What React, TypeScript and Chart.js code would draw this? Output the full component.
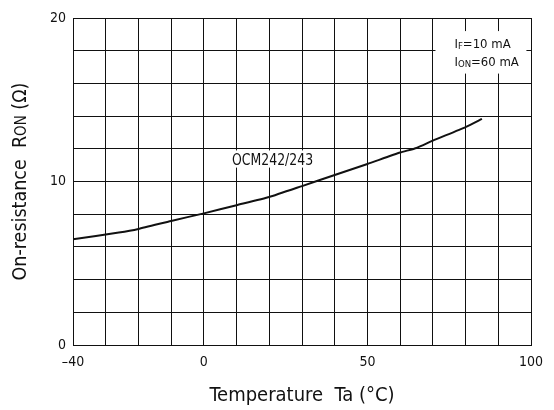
import React, { useEffect, useRef } from "react";
import { Chart, registerables } from "chart.js";

Chart.register(...registerables);

const temperatures = [-40, -26, -20, -10, 0, 10, 20, 30, 40, 50, 60, 65, 70, 80, 85];
const resistance = [6.47, 6.88, 7.1, 7.59, 8.05, 8.55, 9.05, 9.72, 10.4, 11.07, 11.77, 12.05, 12.5, 13.33, 13.83];
const xTickLabels = [-40, 0, 50, 100];
const yTickLabels = [0, 10, 20];
const seriesLabel = "OCM242/243";
const xTitle = "Temperature  Ta (°C)";

const FONT = '"Liberation Sans Narrow", "DejaVu Sans Condensed", "Roboto", sans-serif';

type Part = { t: string; sub?: boolean };

function drawParts(ctx: CanvasRenderingContext2D, x: number, y: number, parts: Part[], size: number, subSize: number) {
  let cx = x;
  for (const p of parts) {
    ctx.font = `${p.sub ? subSize : size}px ${FONT}`;
    ctx.fillText(p.t, cx, p.sub ? y + size * 0.22 : y);
    cx += ctx.measureText(p.t).width;
  }
  return cx - x;
}

const annotations = {
  id: "annotations",
  afterDatasetsDraw(chart: any) {
    const { ctx, scales } = chart;
    const xs = scales.x;
    const ys = scales.y;
    ctx.save();
    // series label with white box (tall condensed look)
    ctx.font = `16.5px ${FONT}`;
    const lx = (xs.getPixelForValue(8) + xs.getPixelForValue(34)) / 2;
    const ly = ys.getPixelForValue(11.3);
    const rawW = ctx.measureText(seriesLabel).width;
    const targetW = 81;
    ctx.fillStyle = "#fff";
    ctx.fillRect(lx - targetW / 2 - 4, ys.getPixelForValue(11.9), targetW + 8, ys.getPixelForValue(10.85) - ys.getPixelForValue(11.9));
    ctx.fillStyle = "#111";
    ctx.textAlign = "center";
    ctx.textBaseline = "middle";
    ctx.save();
    ctx.translate(lx, ly);
    ctx.scale(targetW / rawW, 1);
    ctx.fillText(seriesLabel, 0, 0);
    ctx.restore();

    // condition box
    const bx0 = xs.getPixelForValue(70.8);
    const bx1 = xs.getPixelForValue(98.6);
    const by0 = ys.getPixelForValue(19.2);
    const by1 = ys.getPixelForValue(16.6);
    ctx.fillStyle = "#fff";
    ctx.fillRect(bx0, by0, bx1 - bx0, by1 - by0);
    ctx.fillStyle = "#111";
    ctx.textAlign = "left";
    ctx.textBaseline = "middle";
    const l1: Part[] = [{ t: "I" }, { t: "F", sub: true }, { t: "=10 mA" }];
    const l2: Part[] = [{ t: "I" }, { t: "ON", sub: true }, { t: "=60 mA" }];
    const tx = bx0 + 19;
    drawParts(ctx, tx, ys.getPixelForValue(18.4), l1, 13, 9.5);
    drawParts(ctx, tx, ys.getPixelForValue(17.3), l2, 13, 9.5);

    ctx.restore();
  },
  afterDraw(chart: any) {
    const { ctx, chartArea } = chart;
    ctx.save();
    ctx.fillStyle = "#111";
    // x title
    ctx.font = `20px ${FONT}`;
    ctx.textAlign = "center";
    ctx.textBaseline = "middle";
    ctx.fillText(xTitle, (chartArea.left + chartArea.right) / 2, 396);
    // y title rotated with smaller "ON"
    const parts: Part[] = [{ t: "On-resistance  R" }, { t: "ON" }, { t: " (Ω)" }];
    const sizes = [19.5, 15, 19.5];
    ctx.translate(19, (chartArea.top + chartArea.bottom) / 2);
    ctx.rotate(-Math.PI / 2);
    let w = 0;
    parts.forEach((p, i) => {
      ctx.font = `${sizes[i]}px ${FONT}`;
      w += ctx.measureText(p.t).width;
    });
    let cx = -w / 2;
    ctx.textAlign = "left";
    ctx.textBaseline = "alphabetic";
    parts.forEach((p, i) => {
      ctx.font = `${sizes[i]}px ${FONT}`;
      ctx.fillText(p.t, cx, 7);
      cx += ctx.measureText(p.t).width;
    });
    ctx.restore();
  },
};

export default function App() {
  const ref = useRef<HTMLCanvasElement>(null);
  useEffect(() => {
    if (!ref.current) return;
    const chart = new Chart(ref.current, {
      type: "line",
      data: {
        datasets: [
          {
            label: seriesLabel,
            data: temperatures.map((t, i) => ({ x: t, y: resistance[i] })),
            borderColor: "#111",
            borderWidth: 2,
            pointRadius: 0,
            tension: 0.15,
            fill: false,
          },
        ],
      },
      options: {
        animation: false,
        responsive: false,
        maintainAspectRatio: false,
        layout: { padding: { left: 0, top: 18, right: 23, bottom: 0 } },
        plugins: { legend: { display: false }, tooltip: { enabled: false }, title: { display: false } },
        scales: {
          x: {
            type: "linear",
            min: -40,
            max: 100,
            afterFit: (s: any) => {
              s.height = 65;
            },
            afterBuildTicks: (s: any) => {
              const t = [];
              for (let v = -40; v <= 100; v += 10) t.push({ value: v });
              s.ticks = t;
            },
            ticks: {
              autoSkip: false,
              maxRotation: 0,
              padding: 9,
              color: "#111",
              font: { family: FONT, size: 14 },
              callback: (v: any) => (xTickLabels.includes(Number(v)) ? (Number(v) < 0 ? "–" + Math.abs(Number(v)) : String(v)) : ""),
            },
            grid: { color: "#111", lineWidth: 1, drawTicks: false },
            border: { display: true, color: "#111", width: 1 },
          },
          y: {
            type: "linear",
            min: 0,
            max: 20,
            afterFit: (s: any) => {
              s.width = 73;
            },
            afterBuildTicks: (s: any) => {
              const t = [];
              for (let v = 0; v <= 20; v += 2) t.push({ value: v });
              s.ticks = t;
            },
            ticks: {
              autoSkip: false,
              padding: 7,
              color: "#111",
              font: { family: FONT, size: 14 },
              callback: (v: any) => (yTickLabels.includes(Number(v)) ? String(v) : ""),
            },
            grid: { color: "#111", lineWidth: 1, drawTicks: false },
            border: { display: true, color: "#111", width: 1 },
          },
        },
      },
      plugins: [annotations],
    });
    return () => chart.destroy();
  }, []);
  return (
    <div style={{ position: "absolute", left: 0, top: 0, width: 554, height: 410, background: "#fff" }}>
      <canvas ref={ref} width={554} height={410} style={{ width: 554, height: 410, display: "block" }} />
    </div>
  );
}
